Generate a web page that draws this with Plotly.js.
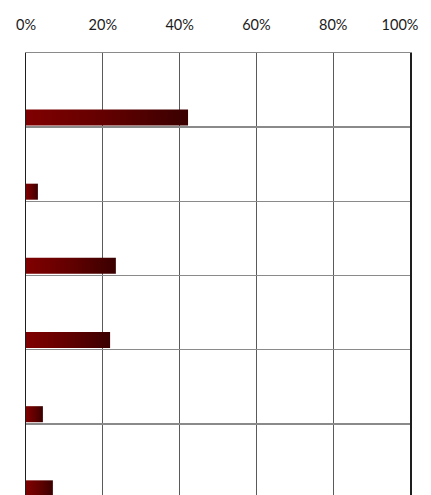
<!DOCTYPE html>
<html>
<head>
<meta charset="utf-8">
<script src="https://cdn.plot.ly/plotly-3.0.1.min.js"></script>
<style>
  html, body { margin: 0; padding: 0; overflow: hidden; background: #fff; }
  #chart { width: 431px; height: 498px; }
</style>
</head>
<body>
<div id="chart"></div>
<script>
const categories = ['A', 'B', 'C', 'D', 'E', 'F'];
const values = [42.2, 3.1, 23.4, 21.9, 4.4, 7.0];
const tickValues = [0, 20, 40, 60, 80, 100];
const tickLabels = ['0%', '20%', '40%', '60%', '80%', '100%'];

const trace = {
  type: 'bar',
  orientation: 'h',
  x: values,
  y: categories,
  width: 0.216,
  offset: 0.262,
  marker: { color: '#6a0000', line: { width: 0 } },
  hoverinfo: 'skip'
};

const layout = {
  width: 431,
  height: 498,
  margin: { l: 26, r: 21, t: 53, b: 0, pad: 0 },
  paper_bgcolor: '#ffffff',
  plot_bgcolor: '#ffffff',
  showlegend: false,
  font: { family: 'Lato, "Open Sans", sans-serif', size: 14.5, color: '#1a1a1a' },
  xaxis: {
    side: 'top',
    range: [0, 100],
    tickvals: tickValues,
    ticktext: tickLabels,
    ticks: '',
    ticklabelstandoff: 16,
    showgrid: true,
    gridcolor: '#5a5a5a',
    gridwidth: 1,
    showline: true,
    linecolor: '#8a8a8a',
    linewidth: 1.5,
    zeroline: false,
    fixedrange: true
  },
  yaxis: {
    type: 'category',
    autorange: 'reversed',
    tickson: 'boundaries',
    showticklabels: false,
    ticks: '',
    showgrid: true,
    gridcolor: '#8a8a8a',
    gridwidth: 1.5,
    showline: true,
    mirror: true,
    linecolor: '#1e1e1e',
    linewidth: 1.5,
    zeroline: false,
    fixedrange: true
  }
};

Plotly.newPlot('chart', [trace], layout, { displayModeBar: false, staticPlot: true }).then(function (gd) {
  const ns = 'http://www.w3.org/2000/svg';
  const svg = gd.querySelector('svg.main-svg');
  let defs = svg.querySelector('defs');
  if (!defs) { defs = document.createElementNS(ns, 'defs'); svg.insertBefore(defs, svg.firstChild); }
  const grad = document.createElementNS(ns, 'linearGradient');
  grad.setAttribute('id', 'barGrad');
  grad.setAttribute('x1', '0'); grad.setAttribute('y1', '0');
  grad.setAttribute('x2', '1'); grad.setAttribute('y2', '0');
  [['0', '#800000'], ['0.5', '#620000'], ['1', '#3a0000']].forEach(function (s) {
    const st = document.createElementNS(ns, 'stop');
    st.setAttribute('offset', s[0]);
    st.setAttribute('stop-color', s[1]);
    grad.appendChild(st);
  });
  defs.appendChild(grad);
  gd.querySelectorAll('.bars .point path').forEach(function (p) {
    p.style.fill = 'url(#barGrad)';
    p.style.fillOpacity = '1';
  });
  // keep the last tick label inside the chart, as in the reference
  const xt = gd.querySelectorAll('.xtick');
  if (xt.length) {
    xt[xt.length - 1].setAttribute('transform', 'translate(-10,0)');
  }
});
</script>
</body>
</html>
